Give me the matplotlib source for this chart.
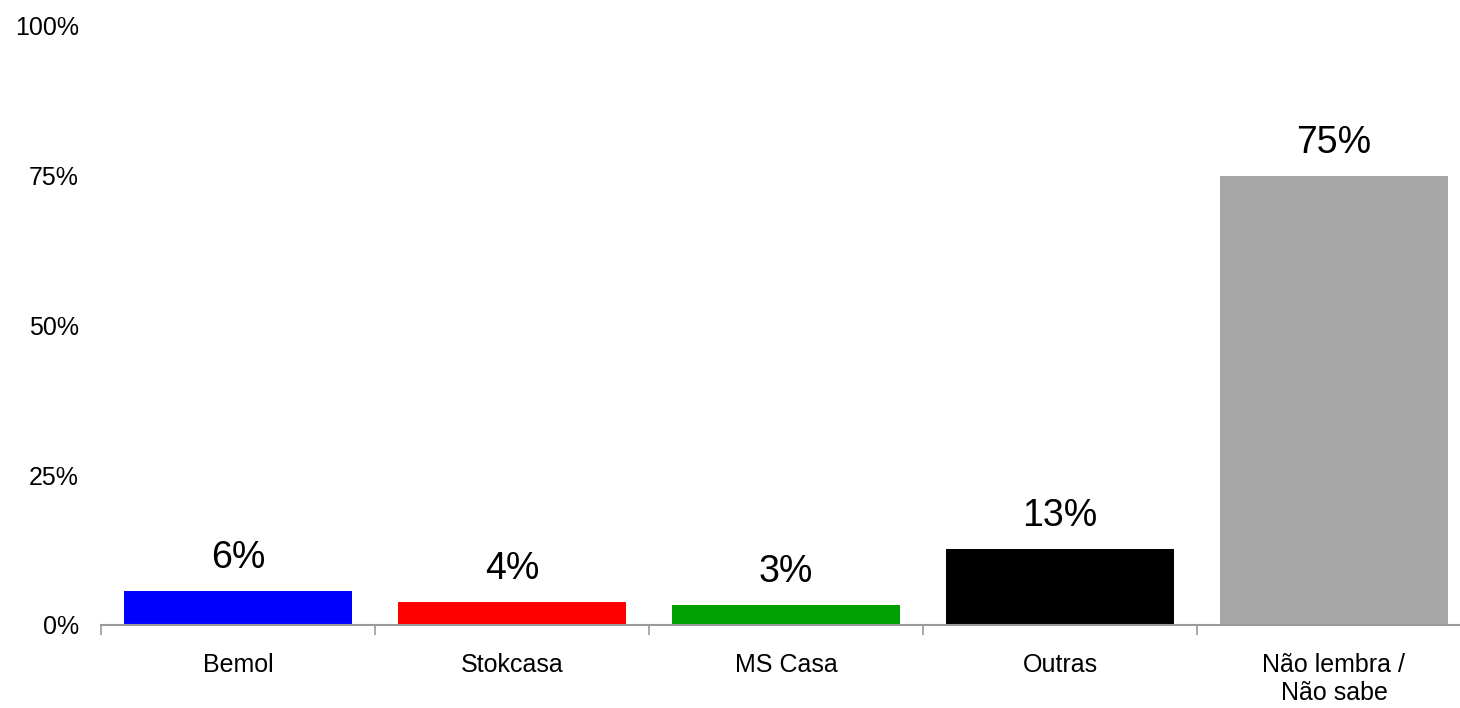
import matplotlib.pyplot as plt
from matplotlib.ticker import FixedLocator

plt.rcParams['font.family'] = ['Liberation Sans', 'DejaVu Sans']

categories = ['Bemol', 'Stokcasa', 'MS Casa', 'Outras', 'Não lembra /\nNão sabe']
values = [5.7, 3.8, 3.3, 12.6, 74.8]
colors = ['#0000FF', '#FF0000', '#00A000', '#000000', '#A6A6A6']
yticks = [0, 25, 50, 75, 100]

fig = plt.figure(figsize=(14.6, 7.08), dpi=100)
ax = fig.add_axes([101 / 1460, 1 - 625 / 708, 1370 / 1460, 600 / 708])

x = range(len(categories))
bars = ax.bar(x, values, width=0.83, color=colors)
for b, v in zip(bars, values):
    ax.annotate(f'{round(v)}%', (b.get_x() + b.get_width() / 2, v),
                xytext=(0, 11), textcoords='offset points',
                ha='center', va='bottom', fontsize=27)

ax.set_xlim(-0.5, len(categories) - 0.5)
ax.set_ylim(0, 100)
ax.set_yticks(yticks)
ax.set_yticklabels([f'{t}%' for t in yticks], fontsize=18)
ax.tick_params(axis='y', length=0, pad=16)

ax.set_xticks(list(x))
ax.set_xticklabels(categories, fontsize=18, va='top', linespacing=1.2)
ax.tick_params(axis='x', which='major', length=0, pad=20)
ax.xaxis.set_minor_locator(FixedLocator([i - 0.5 for i in range(len(categories) + 1)]))
ax.tick_params(axis='x', which='minor', length=7, color='#999999', width=1.2)

for s in ['top', 'right', 'left']:
    ax.spines[s].set_visible(False)
ax.spines['bottom'].set_color('#999999')
ax.spines['bottom'].set_linewidth(1.5)

fig.savefig('out.png', dpi=100)
